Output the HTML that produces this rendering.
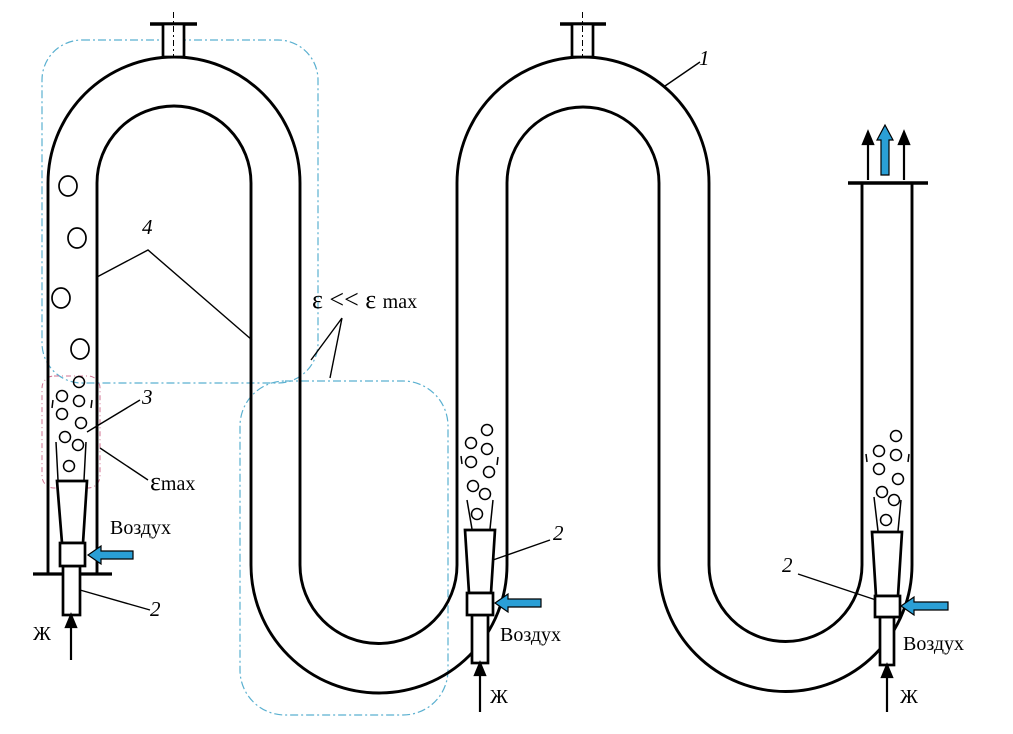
<!DOCTYPE html>
<html><head><meta charset="utf-8"><style>
html,body{margin:0;padding:0;background:#fff;}
svg{display:block;}
text{font-family:"Liberation Serif",serif;fill:#000;}
</style></head><body>
<svg width="1013" height="734" viewBox="0 0 1013 734" xmlns="http://www.w3.org/2000/svg">
<g fill="none" stroke="#5ab0d0" stroke-width="1.2" stroke-dasharray="8,3,2,3">
<rect x="42" y="40" width="276" height="343" rx="40"/>
<rect x="240" y="381" width="208" height="334" rx="45"/>
</g>
<rect x="42" y="376" width="58" height="112" rx="12" fill="none" stroke="#d07090" stroke-width="1" stroke-dasharray="5,3,1,3"/>
<g fill="none" stroke="#000" stroke-width="2.9">
<path d="M48 574 V183 A126 126 0 0 1 300 183 V565 A78.5 78.5 0 0 0 457 565 V183 A126 126 0 0 1 709 183 V565 A76.5 76.5 0 0 0 862 565 V183"/>
<path d="M97 574 V183 A77 77 0 0 1 251 183 V565 A128 128 0 0 0 507 565 V183 A76 76 0 0 1 659 183 V565 A126.5 126.5 0 0 0 912 565 V183"/>
<path d="M33 574 H112" stroke-width="3.2"/>
<path d="M848 183 H928" stroke-width="3.5"/>
<path d="M150 24 H197 M560 24 H606" stroke-width="3.5"/>
</g>
<rect x="163" y="24" width="21" height="33" fill="#fff" stroke="#000" stroke-width="2.7"/>
<rect x="572" y="24" width="21" height="33" fill="#fff" stroke="#000" stroke-width="2.7"/>
<path d="M173.5 12 V58 M582.5 12 V58" stroke="#000" stroke-width="1" stroke-dasharray="6,3,2,3"/>
<g fill="none" stroke="#000" stroke-width="1.7">
<ellipse cx="68" cy="186" rx="9" ry="10"/>
<ellipse cx="77" cy="238" rx="9" ry="10"/>
<ellipse cx="61" cy="298" rx="9" ry="10"/>
<ellipse cx="80" cy="349" rx="9" ry="10"/>
</g>
<g fill="none" stroke="#000" stroke-width="1.5">
<circle cx="79" cy="382" r="5.5"/><circle cx="62" cy="396" r="5.5"/><circle cx="79" cy="401" r="5.5"/><circle cx="62" cy="414" r="5.5"/><circle cx="81" cy="423" r="5.5"/><circle cx="65" cy="437" r="5.5"/><circle cx="78" cy="445" r="5.5"/><circle cx="69" cy="466" r="5.5"/>
<path d="M58 480 L56 442 M84 480 L86 442 M53 400 L52 408 M92 400 L91 408"/>
<circle cx="487" cy="430" r="5.5"/><circle cx="471" cy="443" r="5.5"/><circle cx="487" cy="449" r="5.5"/><circle cx="471" cy="462" r="5.5"/><circle cx="489" cy="472" r="5.5"/><circle cx="473" cy="486" r="5.5"/><circle cx="485" cy="494" r="5.5"/><circle cx="477" cy="514" r="5.5"/>
<path d="M472 529 L467 500 M490 529 L493 500 M461 456 L462 464 M498 457 L497 465"/>
<circle cx="896" cy="436" r="5.5"/><circle cx="879" cy="451" r="5.5"/><circle cx="896" cy="455" r="5.5"/><circle cx="879" cy="469" r="5.5"/><circle cx="898" cy="479" r="5.5"/><circle cx="882" cy="492" r="5.5"/><circle cx="894" cy="500" r="5.5"/><circle cx="886" cy="520" r="5.5"/>
<path d="M874 497 L878 531 M901 500 L898 531 M866 454 L867 462 M909 454 L908 462"/>
</g>
<g fill="#fff" stroke="#000" stroke-width="2.7">
<path d="M57 481 H87 L83 543 H62 Z"/>
<rect x="63" y="566" width="17" height="49"/>
<rect x="60" y="543" width="25" height="23"/>
<path d="M465 530 H495 L491 593 H469 Z"/>
<rect x="472" y="615" width="16" height="48"/>
<rect x="467" y="593" width="26" height="22"/>
<path d="M872 532 H902 L898 596 H876 Z"/>
<rect x="880" y="617" width="14" height="48"/>
<rect x="875" y="596" width="25" height="21"/>
</g>
<g fill="#2a9fd6" stroke="#000" stroke-width="1.2">
<path d="M133 551 H101 V546 L88 555 L101 564 V559 H133 Z"/>
<path d="M541 599 H508 V594 L495 603 L508 612 V607 H541 Z"/>
<path d="M948 602 H914 V597 L901 606 L914 615 V610 H948 Z"/>
<path d="M881 175 V140 H877 L885 125 L893 140 H889 V175 Z"/>
</g>
<g stroke="#000" stroke-width="2.2" fill="#000">
<path d="M71 660 V625" fill="none"/><path d="M66 627 L71 615 L76 627 Z"/>
<path d="M480 712 V673" fill="none"/><path d="M475 675 L480 663 L485 675 Z"/>
<path d="M887 712 V675" fill="none"/><path d="M882 677 L887 665 L892 677 Z"/>
<path d="M868 180 V142" fill="none"/><path d="M863 144 L868 132 L873 144 Z"/>
<path d="M904 180 V142" fill="none"/><path d="M899 144 L904 132 L909 144 Z"/>
</g>
<g stroke="#000" stroke-width="1.4" fill="none">
<path d="M97 277 L148 250 L252 340"/>
<path d="M87 432 L140 400"/>
<path d="M100 448 L148 480"/>
<path d="M80 590 L150 610"/>
<path d="M493 560 L550 540"/>
<path d="M798 574 L876 600"/>
<path d="M665 86 L700 62"/>
<path d="M342 318 L311 360 M342 318 L330 378"/>
</g>
<g font-size="21">
<text x="142" y="234" font-style="italic">4</text>
<text x="142" y="404" font-style="italic">3</text>
<text x="150" y="616" font-style="italic">2</text>
<text x="553" y="540" font-style="italic">2</text>
<text x="782" y="572" font-style="italic">2</text>
<text x="699" y="65" font-style="italic">1</text>
<text x="150" y="490" font-size="26">ε<tspan font-size="20">max</tspan></text>
<text x="312" y="308" font-size="26">ε &lt;&lt; ε <tspan font-size="20">max</tspan></text>
<text x="110" y="534" font-size="20">Воздух</text>
<text x="500" y="641" font-size="20">Воздух</text>
<text x="903" y="650" font-size="20">Воздух</text>
<text x="33" y="640" font-size="20">Ж</text>
<text x="490" y="703" font-size="20">Ж</text>
<text x="900" y="703" font-size="20">Ж</text>
</g>
</svg>
</body></html>
